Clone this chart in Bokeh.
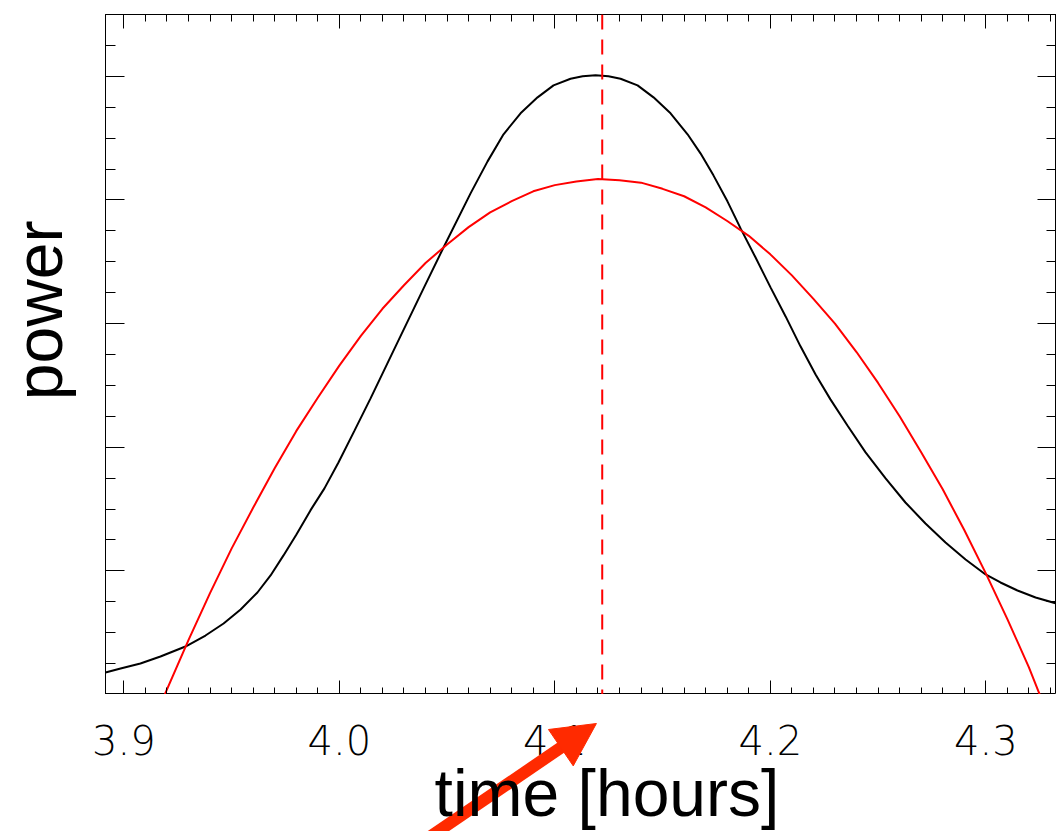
import numpy as np
from bokeh.plotting import figure
from bokeh.layouts import column, row
from bokeh.models import Range1d, LinearAxis, FixedTicker, Span
from bokeh.core.properties import value
from bokeh.embed import file_html
from bokeh.resources import INLINE

# ---- data ----
time_black = [3.8915, 3.8985, 3.9077, 3.9170, 3.9286, 3.9379, 3.9463, 3.9542, 3.9620, 3.9681,
              3.9741, 3.9801, 3.9866, 3.9931, 3.9996, 4.0071, 4.0145, 4.0270, 4.0391, 4.0484,
              4.0609, 4.0688, 4.0762, 4.0841, 4.0920, 4.0994, 4.1073, 4.1129, 4.1189, 4.1249,
              4.1305, 4.1384, 4.1458, 4.1537, 4.1616, 4.1676, 4.1736, 4.1801, 4.1862, 4.1931,
              4.2001, 4.2071, 4.2140, 4.2210, 4.2279, 4.2358, 4.2442, 4.2535, 4.2627, 4.2720,
              4.2813, 4.2906, 4.2999, 4.3068, 4.3147, 4.3231, 4.3328]
power_black = [0.178, 0.210, 0.251, 0.307, 0.388, 0.477, 0.574, 0.688, 0.825, 0.963,
               1.125, 1.294, 1.489, 1.667, 1.877, 2.136, 2.395, 2.848, 3.285, 3.617,
               4.053, 4.312, 4.531, 4.701, 4.830, 4.927, 4.980, 5.000, 5.008, 5.000,
               4.980, 4.927, 4.830, 4.701, 4.531, 4.377, 4.199, 3.989, 3.770, 3.536,
               3.293, 3.058, 2.816, 2.589, 2.387, 2.176, 1.958, 1.748, 1.553, 1.383,
               1.230, 1.092, 0.971, 0.906, 0.841, 0.785, 0.736]

time_red = [3.919, 3.93, 3.94, 3.95, 3.96, 3.97, 3.98, 3.99, 4.00, 4.01, 4.02, 4.03, 4.04,
            4.05, 4.06, 4.07, 4.08, 4.09, 4.10, 4.11, 4.12, 4.13, 4.14, 4.15, 4.16, 4.17,
            4.18, 4.19, 4.20, 4.21, 4.22, 4.23, 4.24, 4.25, 4.26, 4.27, 4.28, 4.29, 4.30,
            4.31, 4.32, 4.325]
power_red = [0.00, 0.44, 0.82, 1.18, 1.51, 1.83, 2.13, 2.40, 2.66, 2.90, 3.12, 3.31, 3.49,
             3.64, 3.78, 3.90, 3.99, 4.07, 4.12, 4.15, 4.17, 4.16, 4.14, 4.09, 4.03, 3.94,
             3.83, 3.71, 3.56, 3.39, 3.20, 3.00, 2.77, 2.52, 2.25, 1.96, 1.66, 1.33, 0.98,
             0.61, 0.22, 0.00]

peak_time = 4.122

x_ticks = [3.9, 4.0, 4.1, 4.2, 4.3]
x_tick_labels = ["3.9", "4.0", "4.1", "4.2", "4.3"]
x_minor = [round(v, 2) for v in np.arange(3.89, 4.345, 0.01)]
y_ticks = [0, 1, 2, 3, 4, 5]
y_minor = [round(v, 2) for v in np.arange(0, 5.51, 0.25)]

x_title = "time [hours]"
y_title = "power"

# ---- layout constants ----
X0, X1 = 3.8915, 4.3328        # data range of the frame
Y0, Y1 = 0.0, 5.5
PX_X = 2155.0                   # pixels per hour
PX_Y = 123.6                    # pixels per power unit
LEFT = 105
W = 1056
H1 = 694
H2 = 137
TOP = 14

def blank(fig):
    fig.frame_align = False
    fig.grid.visible = False
    fig.outline_line_color = None

# ---- left strip with the y title ----
r = figure(width=LEFT, height=H1, x_range=Range1d(0, LEFT), y_range=Range1d(Y0, Y1),
           output_backend="svg", toolbar_location=None,
           min_border_left=0, min_border_right=0, min_border_top=TOP, min_border_bottom=0,
           x_axis_location=None, y_axis_location=None)
blank(r)
r.text(x=[38], y=[3.107], text=[y_title], angle=np.pi / 2,
       text_font=value("Liberation Sans"), text_font_size="66px",
       text_align="center", text_baseline="alphabetic", text_color="black")

# ---- main plot ----
p = figure(width=W - LEFT, height=H1,
           x_range=Range1d(X0, X1), y_range=Range1d(Y0, Y1),
           output_backend="svg", toolbar_location=None,
           min_border_left=0, min_border_right=0, min_border_top=TOP, min_border_bottom=0)
p.frame_align = False
p.grid.visible = False
p.outline_line_color = "black"
p.outline_line_width = 1

xt = FixedTicker(ticks=x_ticks, minor_ticks=x_minor)
yt = FixedTicker(ticks=y_ticks, minor_ticks=y_minor)

def style_axis(ax, ticker, major, minor):
    ax.ticker = ticker
    ax.major_tick_in = major
    ax.major_tick_out = 0
    ax.minor_tick_in = minor
    ax.minor_tick_out = 0
    ax.axis_line_color = "black"
    ax.major_tick_line_color = "black"
    ax.minor_tick_line_color = "black"
    ax.major_label_text_color = None
    ax.major_label_text_font_size = "0px"
    ax.major_label_standoff = 0

style_axis(p.xaxis[0], xt, 14, 7)
style_axis(p.yaxis[0], yt, 19, 10)
top = LinearAxis()
style_axis(top, xt, 14, 7)
p.add_layout(top, "above")
right = LinearAxis()
style_axis(right, yt, 19, 10)
p.add_layout(right, "right")

p.line(time_black, power_black, line_color="black", line_width=2)
p.line(time_red, power_red, line_color="red", line_width=2)
p.add_layout(Span(location=peak_time, dimension="height", line_color="red",
                  line_dash="15 10", line_width=2))

# ---- strip below the frame: tick labels, arrow, axis title ----
q = figure(width=W, height=H2,
           x_range=Range1d(X0 - LEFT / PX_X, X1), y_range=Range1d(-H2 / PX_Y, 0),
           output_backend="svg", toolbar_location=None,
           min_border_left=0, min_border_right=0, min_border_top=0, min_border_bottom=0,
           x_axis_location=None, y_axis_location=None)
blank(q)

tick_label_y = -45 / PX_Y
q.text(x=x_ticks, y=[tick_label_y] * len(x_ticks), text=x_tick_labels,
       text_font=value("'DejaVu Sans Light', 'DejaVu Sans'"), text_font_size="40px",
       text_align="center", text_baseline="alphabetic", text_color="black")

# arrow pointing at the peak time, built in pixel space then mapped to data
arrow_color = "#ff2a00"
tip_x, tip_y = 4.1193, -29 / PX_Y
ux, uy = 0.8267, 0.5626          # unit direction (right, up) in screen pixels
head_len, head_w, shaft_len = 43.0, 44.0, 260.0
bx = tip_x - head_len * ux / PX_X
by = tip_y - head_len * uy / PX_Y
nx, ny = -uy, ux
c1 = (bx + 0.5 * head_w * nx / PX_X, by + 0.5 * head_w * ny / PX_Y)
c2 = (bx - 0.5 * head_w * nx / PX_X, by - 0.5 * head_w * ny / PX_Y)
tail_x = tip_x - shaft_len * ux / PX_X
tail_y = tip_y - shaft_len * uy / PX_Y
q.line([tail_x, bx + 2 * ux / PX_X], [tail_y, by + 2 * uy / PX_Y],
       line_color=arrow_color, line_width=12)
q.patch([tip_x, c1[0], c2[0]], [tip_y, c1[1], c2[1]],
        fill_color=arrow_color, line_color=arrow_color, line_width=1)

q.text(x=[4.1242], y=[-98.6 / PX_Y], text=[x_title], text_font=value("Liberation Sans"),
       text_font_size="66px", text_align="center", text_baseline="alphabetic",
       text_color="black")

layout = column(row(r, p, spacing=0), q, spacing=0)
open("out.html", "w").write(file_html(layout, INLINE))
